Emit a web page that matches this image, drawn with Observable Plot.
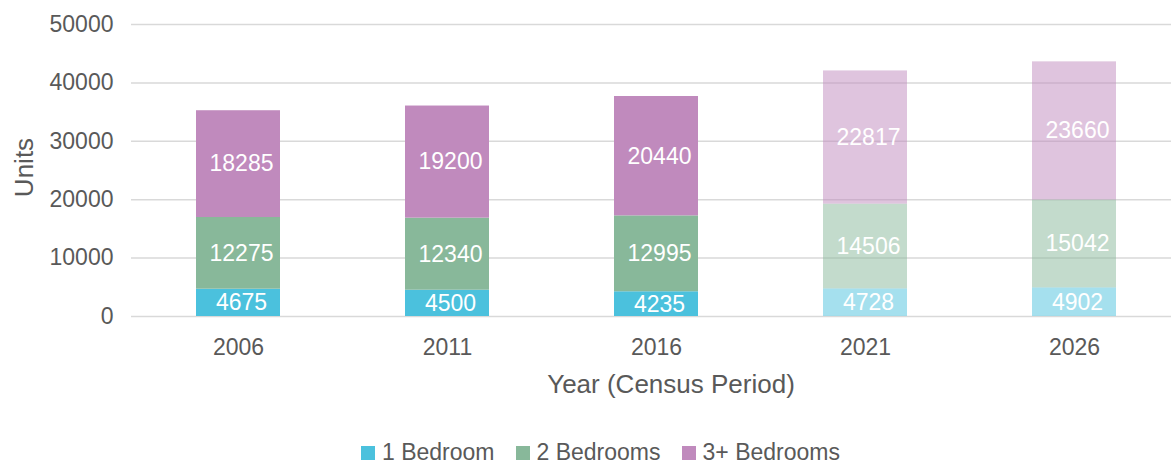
<!DOCTYPE html>
<html><head><meta charset="utf-8">
<script src="https://cdn.jsdelivr.net/npm/d3@7"></script>
<script src="https://cdn.jsdelivr.net/npm/@observablehq/plot@0.6"></script>
<style>
body{margin:0;background:#fff;font-family:"Liberation Sans",Arial,sans-serif;}
#wrap{position:relative;width:1171px;height:465px;overflow:hidden;}
#legend{position:absolute;left:361px;top:440px;display:flex;align-items:center;font-size:23px;color:#595959;line-height:24px;height:24px;white-space:nowrap;}
.item{display:flex;align-items:center;margin-right:21px}
.sw{width:14px;height:14px;margin-right:7px;flex:none;margin-top:2px}
</style></head><body><div id="wrap"><div id="chart"></div><div id="legend"></div></div>
<script>
const years = ["2006", "2011", "2016", "2021", "2026"];
const projectedYears = ["2021", "2026"];
const types = ["1 Bedroom", "2 Bedrooms", "3+ Bedrooms"];
const oneBedroom = [4675, 4500, 4235, 4728, 4902];
const twoBedrooms = [12275, 12340, 12995, 14506, 15042];
const threePlusBedrooms = [18285, 19200, 20440, 22817, 23660];
const yTicks = [0, 10000, 20000, 30000, 40000, 50000];
const colors = ["#4bc1dd", "#88b89a", "#c08abd"];
const yLabel = "Units";
const xLabel = "Year (Census Period)";

const series = [oneBedroom, twoBedrooms, threePlusBedrooms];
const rows = [];
years.forEach((year, i) => {
  types.forEach((type, j) => {
    rows.push({year, type, value: series[j][i], projected: projectedYears.includes(year)});
  });
});

const textColor = "#595959";
const plot = Plot.plot({
  width: 1171, height: 400,
  marginLeft: 131, marginRight: 0, marginTop: 24, marginBottom: 84,
  style: {fontFamily: "'Liberation Sans', Arial, sans-serif", fontSize: "23px", color: textColor, background: "white", overflow: "visible"},
  x: {domain: years, range: [131, 1180], paddingInner: 0.6, paddingOuter: 0.3, label: null},
  y: {domain: [0, 50000], label: null},
  color: {domain: types, range: colors},
  marks: [
    Plot.gridY(yTicks, {stroke: "#d9d9d9", strokeOpacity: 1, strokeWidth: 1.5}),
    Plot.barY(rows, {x: "year", y: "value", z: "type", fill: "type", fillOpacity: d => d.projected ? 0.5 : 1}),
    Plot.text(rows, Plot.stackY({x: "year", y: "value", z: "type", text: d => String(d.value), fill: "white", fontSize: 23, dx: 3})),
    Plot.axisX({tickSize: 0, tickPadding: 22, label: null, fill: textColor}),
    Plot.axisY(yTicks, {tickSize: 0, tickPadding: 18, tickFormat: d3.format("d"), label: null, fill: textColor}),
    Plot.text([yLabel], {frameAnchor: "left", rotate: -90, dx: -107, dy: -3, fontSize: 26, fill: textColor, textAnchor: "middle", lineAnchor: "middle"}),
    Plot.text([xLabel], {frameAnchor: "bottom", dx: 19.5, dy: 68.5, fontSize: 26, fill: textColor, textAnchor: "middle", lineAnchor: "middle"})
  ]
});
document.getElementById("chart").appendChild(plot);

const legend = document.getElementById("legend");
types.forEach((t, i) => {
  const item = document.createElement("div");
  item.className = "item";
  const sw = document.createElement("span");
  sw.className = "sw";
  sw.style.background = colors[i];
  const lab = document.createElement("span");
  lab.textContent = t;
  item.appendChild(sw); item.appendChild(lab);
  legend.appendChild(item);
});
</script></body></html>
